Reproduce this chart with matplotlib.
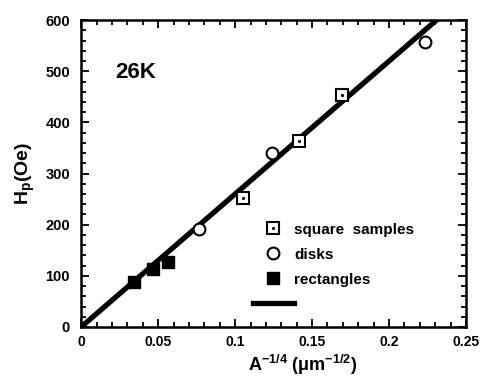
import numpy as np
import matplotlib
matplotlib.use('Agg')
import matplotlib.pyplot as plt
from matplotlib.lines import Line2D
from matplotlib.legend_handler import HandlerTuple
from matplotlib.ticker import MultipleLocator

plt.rcParams['font.family'] = 'Liberation Sans'
plt.rcParams['font.weight'] = 'bold'
plt.rcParams['mathtext.fontset'] = 'custom'
plt.rcParams['mathtext.rm'] = 'Liberation Sans:bold'
plt.rcParams['mathtext.it'] = 'Liberation Sans:bold'
plt.rcParams['mathtext.bf'] = 'Liberation Sans:bold'

# Data
sq_x = [0.105, 0.1416, 0.1695]
sq_y = [252, 364, 454]
disk_x = [0.0766, 0.124, 0.2234]
disk_y = [192, 340, 558]
rect_x = [0.0344, 0.0468, 0.0565]
rect_y = [88, 113, 127]
fit_slope = 2600.0
fit_x = [0.0, 0.24]

fig = plt.figure(figsize=(4.8, 3.8), dpi=100)
ax = fig.add_axes([0.169, 0.1395, 0.802, 0.8075])

# fit line
fx = np.array(fit_x)
ax.plot(fx, fit_slope * fx, color='black', lw=3.8, solid_capstyle='butt', zorder=2)

# markers
ax.plot(sq_x, sq_y, 's', ms=8.5, mfc='white', mec='black', mew=1.5, zorder=3)
ax.plot(sq_x, sq_y, '.', ms=2.5, color='black', zorder=4)
ax.plot(disk_x, disk_y, 'o', ms=8.5, mfc='white', mec='black', mew=1.5, zorder=3)
ax.plot(rect_x, rect_y, 's', ms=9, color='black', zorder=3)

ax.text(0.022, 497, '26K', fontsize=16, fontweight='bold', va='center', ha='left')

# legend
h_sq = (Line2D([], [], ls='none', marker='s', ms=8.5, mfc='white', mec='black', mew=1.5),
        Line2D([], [], ls='none', marker='.', ms=2.5, color='black'))
h_disk = Line2D([], [], ls='none', marker='o', ms=8.5, mfc='white', mec='black', mew=1.5)
h_rect = Line2D([], [], ls='none', marker='s', ms=9, color='black')
h_line = Line2D([], [], color='black', lw=3.8)
ax.legend([h_sq, h_disk, h_rect, h_line],
          ['square  samples', 'disks', 'rectangles', ' '],
          handler_map={tuple: HandlerTuple(ndivide=1, pad=0)},
          loc='upper left', bbox_to_anchor=(0.41, 0.385), frameon=False,
          prop={'weight': 'bold', 'size': 11}, handlelength=2.7,
          handletextpad=0.0, labelspacing=0.72, markerscale=1.0)

ax.set_xlim(0, 0.25)
ax.set_ylim(0, 600)
ax.xaxis.set_major_locator(MultipleLocator(0.05))
ax.xaxis.set_minor_locator(MultipleLocator(0.01))
ax.yaxis.set_major_locator(MultipleLocator(100))
ax.yaxis.set_minor_locator(MultipleLocator(20))
ax.set_xticks([0, 0.05, 0.1, 0.15, 0.2, 0.25])
ax.set_xticklabels(['0', '0.05', '0.1', '0.15', '0.2', '0.25'])
ax.tick_params(which='both', direction='in', top=True, right=True, width=1.3,
               labelsize=10.5, pad=8)
ax.tick_params(axis='x', labelsize=10, pad=6)
ax.tick_params(which='major', length=6)
ax.tick_params(which='minor', length=3.5)
for s in ax.spines.values():
    s.set_linewidth(1.8)

ax.set_xlabel(r'A$^{-1/4}$ (μm$^{-1/2}$)', fontsize=13, fontweight='bold')
ax.xaxis.set_label_coords(0.574, -0.085)
ax.set_ylabel(r'H$_{p}$(Oe)', fontsize=14, fontweight='bold', labelpad=6)

fig.savefig('out.png', dpi=100)
